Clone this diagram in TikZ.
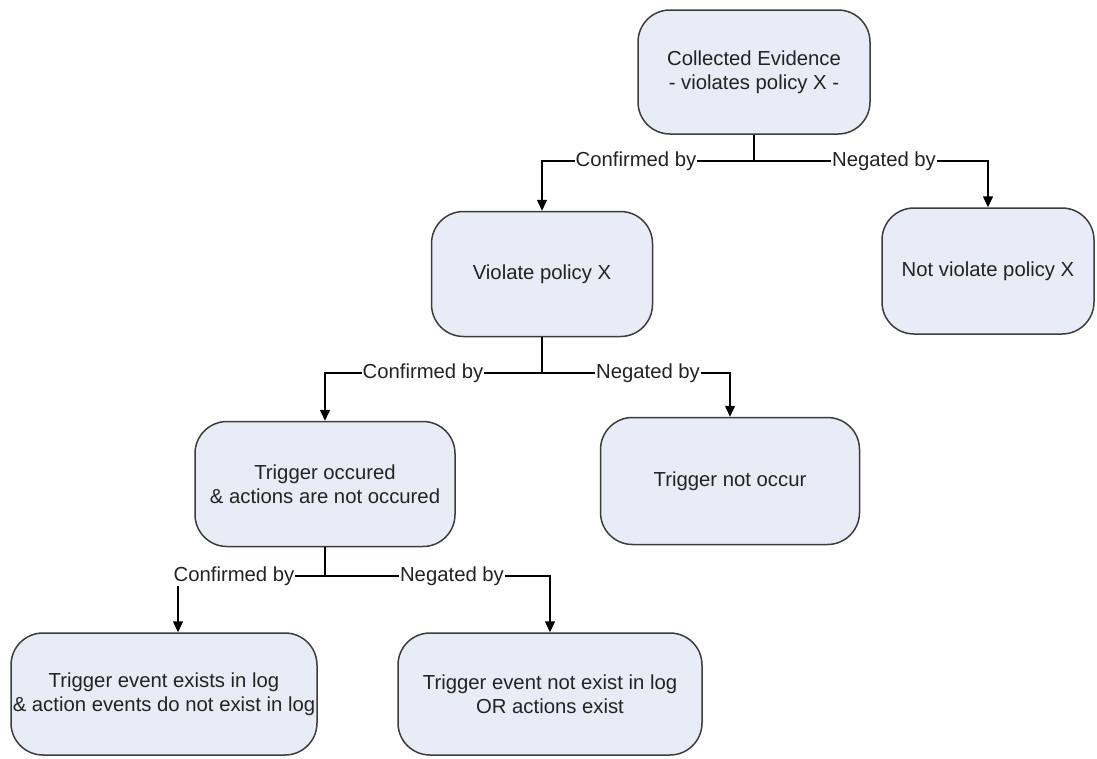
\documentclass[tikz,border=0pt]{standalone}
\usepackage{fontspec}
\setmainfont{Liberation Sans}
\usetikzlibrary{arrows.meta}
\definecolor{boxfill}{RGB}{232,236,246}
\definecolor{boxline}{RGB}{60,60,60}
\definecolor{txt}{RGB}{35,35,35}
\tikzset{
  decision/.style={draw=boxline, line width=1.5pt, fill=boxfill, rounded corners=32pt,
    align=center, text=txt, inner sep=0pt},
  link/.style={draw=black, line width=1.5pt},
  arrowlink/.style={link, -{Triangle[length=11pt,width=10pt]}},
  lbl/.style={fill=white, text=txt, inner sep=1pt}
}
\begin{document}
\begin{tikzpicture}[x=1pt,y=-1pt,font=\fontsize{20.3}{24}\selectfont]
\useasboundingbox (0,0) rectangle (1097,758);

% decision boxes
\node[decision, minimum width=232pt, minimum height=124pt] (ev) at (754,72)
  {Collected Evidence\\- violates policy X -};
\node[decision, minimum width=221pt, minimum height=125pt] (vp) at (542,274)
  {Violate policy X};
\node[decision, minimum width=212pt, minimum height=126pt] (nv) at (988,271)
  {Not violate policy X};
\node[decision, minimum width=260pt, minimum height=125pt] (tr) at (325,484)
  {Trigger occured\\\& actions are not occured};
\node[decision, minimum width=259pt, minimum height=127pt] (tn) at (730,481)
  {Trigger not occur};
\node[decision, minimum width=306pt, minimum height=122pt] (le) at (164,694)
  {Trigger event exists in log\\\& action events do not exist in log};
\node[decision, minimum width=304pt, minimum height=122pt] (ne) at (550,694)
  {Trigger event not exist in log\\OR actions exist};

% branch points
\coordinate (j1) at (754,161);
\coordinate (j2) at (542,373);
\coordinate (j3) at (325,576);

% connectors
\draw[link] (ev.south) -- (j1);
\draw[arrowlink] (j1) -| (vp.north);
\draw[arrowlink] (j1) -| (nv.north);

\draw[link] (vp.south) -- (j2);
\draw[arrowlink] (j2) -| (tr.north);
\draw[arrowlink] (j2) -| (tn.north);

\draw[link] (tr.south) -- (j3);
\draw[arrowlink] (j3) -| ([xshift=14pt]le.north);
\draw[arrowlink] (j3) -| (ne.north);

% connector labels
\node[lbl] (c1) at (636,161) {Confirmed by};
\node[lbl] (n1) at (884,161) {Negated by};
\node[lbl] (c2) at (423,373) {Confirmed by};
\node[lbl] (n2) at (648,373) {Negated by};
\node[lbl] (c3) at (234,576) {Confirmed by};
\node[lbl] (n3) at (452,576) {Negated by};
\end{tikzpicture}
\end{document}
